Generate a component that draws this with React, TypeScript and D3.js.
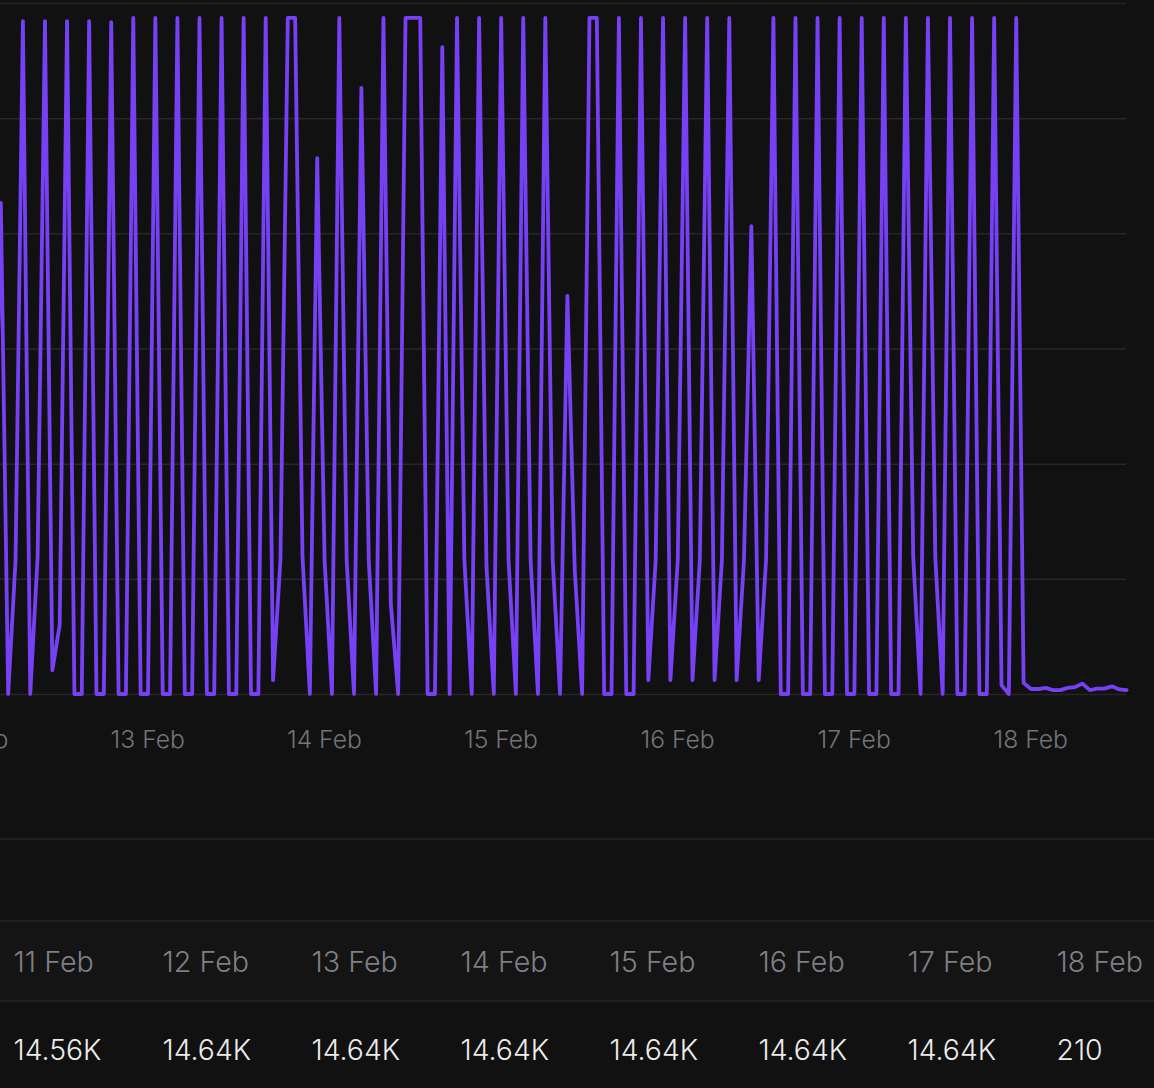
import { useEffect, useRef } from "react"
import * as d3 from "d3"

// hourly counts, one list per day (UTC)
const feb12 = [349, 1279, 0, 349, 1753, 0, 357, 1753, 62, 180, 1753, 0, 0, 1753, 0, 0, 1750, 0, 0, 1761, 0]
const feb13 = [0, 1761, 0, 0, 1761, 0, 0, 1761, 0, 0, 1761, 0, 0, 1761, 0, 0, 1761, 36, 349, 1761, 1761, 357, 0, 1396]
const feb14 = [349, 0, 1761, 349, 0, 1579, 349, 0, 1761, 237, 0, 1761, 1761, 1761, 0, 0, 1685, 0, 1761, 349, 0, 1761, 333, 0]
const feb15 = [1761, 349, 0, 1761, 349, 0, 1761, 349, 0, 1037, 323, 0, 1761, 1761, 0, 0, 1761, 0, 0, 1761, 36, 349, 1761, 36]
const feb16 = [349, 1761, 36, 349, 1761, 36, 349, 1761, 36, 349, 1219, 36, 349, 1761, 0, 0, 1761, 0, 0, 1761, 0, 0, 1761, 0]
const feb17 = [0, 1761, 0, 0, 1761, 0, 0, 1761, 357, 0, 1761, 357, 0, 1761, 0, 0, 1761, 0, 0, 1761, 23, 0, 1761, 29]
const feb18 = [13, 13, 16, 10, 10, 16, 18, 27, 10, 14, 14, 20, 12, 10]

const yTicks = [0, 300, 600, 900, 1200, 1500, 1800]
const tableDays = ["11 Feb", "12 Feb", "13 Feb", "14 Feb", "15 Feb", "16 Feb", "17 Feb", "18 Feb"]
const tableTotals = ["14.56K", "14.64K", "14.64K", "14.64K", "14.64K", "14.64K", "14.64K", "210"]

const counts = [...feb12, ...feb13, ...feb14, ...feb15, ...feb16, ...feb17, ...feb18]
const firstPoint = Date.UTC(2024, 1, 12, 3)
const hour = 3600 * 1000

const width = 1154
const height = 1088
const font = "Inter, sans-serif"

export default function App() {
  const svgRef = useRef<SVGSVGElement>(null)

  useEffect(() => {
    if (!svgRef.current) return
    const svg = d3.select(svgRef.current)
    svg.selectAll("*").remove()

    // the plot runs off the left edge of the page, 12 Feb 00:00 sits at about -29px
    const xScale = d3.scaleUtc()
      .domain([new Date(Date.UTC(2024, 1, 12)), new Date(Date.UTC(2024, 1, 18, 13))])
      .range([-28.6, 1126.6])

    const yScale = d3.scaleLinear()
      .domain([0, 1800])
      .range([694, 3])

    // Table row and dividers
    svg.append("rect")
      .attr("x", 0).attr("y", 921).attr("width", width).attr("height", 80)
      .attr("fill", "#141414")

    svg.selectAll(".divider")
      .data([839, 921, 1001])
      .enter().append("line")
      .attr("x1", 0).attr("x2", width)
      .attr("y1", d => d).attr("y2", d => d)
      .attr("stroke", "#242424")
      .attr("stroke-width", 1.5)

    // Grid lines
    const grid = svg.append("g")
      .call(d3.axisLeft(yScale).tickValues(yTicks).tickSize(-1126).tickFormat(() => ""))
    grid.select(".domain").remove()
    grid.selectAll(".tick line")
      .attr("stroke", "#272727")
      .attr("stroke-width", 1.5)

    // Date axis
    const axis = svg.append("g")
      .attr("transform", "translate(-0.7,694)")
      .call(d3.axisBottom(xScale)
        .ticks(d3.utcDay.every(1)!)
        .tickSize(0)
        .tickPadding(36)
        .tickFormat(d => d3.utcFormat("%-d %b")(d as Date)))
    axis.select(".domain").remove()
    axis.selectAll("text")
      .attr("fill", "#737378")
      .style("font-family", font)
      .style("font-size", "24.7px")
      .style("font-weight", 300)

    const line = d3.line<number>()
      .x((_, i) => xScale(new Date(firstPoint + i * hour)))
      .y(d => yScale(d))

    svg.append("path")
      .datum(counts)
      .attr("fill", "none")
      .attr("stroke", "#7640f5")
      .attr("stroke-width", 3.8)
      .attr("stroke-linejoin", "round")
      .attr("stroke-linecap", "round")
      .attr("d", line)

    // Table below the chart
    const columns = d3.scalePoint<string>()
      .domain(tableDays)
      .range([13.5, 1056.5])

    svg.selectAll(".day")
      .data(tableDays)
      .enter().append("text")
      .attr("x", d => columns(d)!)
      .attr("y", 972)
      .attr("fill", "#7f7f85")
      .style("font-family", font)
      .style("font-size", "28.7px")
      .style("font-weight", 300)
      .text(d => d)

    svg.selectAll(".total")
      .data(tableTotals)
      .enter().append("text")
      .attr("x", (_, i) => columns(tableDays[i])!)
      .attr("y", 1060)
      .attr("fill", "#ececec")
      .style("font-family", font)
      .style("font-size", "28.4px")
      .style("font-weight", 300)
      .text(d => d)
  }, [])

  return (
    <svg
      ref={svgRef}
      width={width}
      height={height}
      style={{ position: "fixed", left: 0, top: 0, display: "block", background: "#111111" }}
    />
  )
}
